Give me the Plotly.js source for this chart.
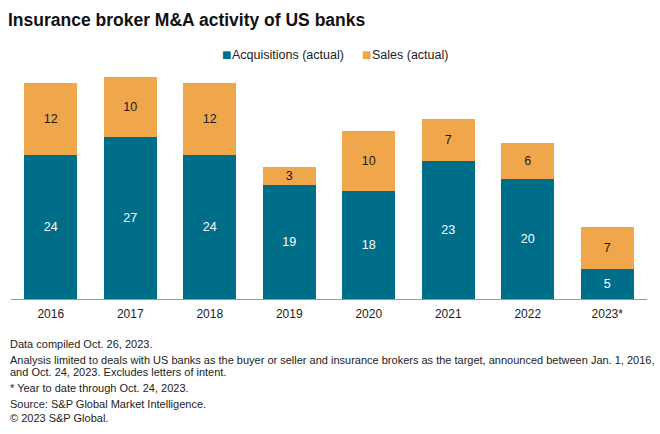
<!DOCTYPE html>
<html>
<head>
<meta charset="utf-8">
<script src="https://cdn.plot.ly/plotly-3.0.1.min.js"></script>
<style>body{margin:0;padding:0;background:#fff;}#chart{width:660px;height:434px;}</style>
</head>
<body>
<div id="chart"></div>
<script>
const years = ["2016", "2017", "2018", "2019", "2020", "2021", "2022", "2023*"];
const acquisitions = [24, 27, 24, 19, 18, 23, 20, 5];
const sales = [12, 10, 12, 3, 10, 7, 6, 7];
const seriesNames = ["Acquisitions (actual)", "Sales (actual)"];
const seriesColors = ["#006E89", "#F0A64B"];
const titleText = "Insurance broker M&A activity of US banks";
const footnotes = [
  "Data compiled Oct. 26, 2023.",
  "Analysis limited to deals with US banks as the buyer or seller and insurance brokers as the target, announced between Jan. 1, 2016,",
  "and Oct. 24, 2023. Excludes letters of intent.",
  "* Year to date through Oct. 24, 2023.",
  "Source: S&P Global Market Intelligence.",
  "© 2023 S&P Global."
];

const W = 660, H = 434;
const mT = 77, mB = 135, mL = 11, mR = 13;
const plotH = H - mT - mB, plotW = W - mL - mR;
const py = p => (H - mB - p) / plotH; // pixel y -> paper y
const pxx = p => (p - mL) / plotW;    // pixel x -> paper x
const font = "Liberation Sans, Arial, sans-serif";

const traces = [
  {
    type: "bar", name: seriesNames[0], x: years, y: acquisitions,
    marker: {color: seriesColors[0]},
    text: acquisitions.map(String), textposition: "inside", insidetextanchor: "middle",
    textangle: 0, constraintext: "none",
    textfont: {color: "#ffffff", size: 12.5, family: font},
    hoverinfo: "x+y"
  },
  {
    type: "bar", name: seriesNames[1], x: years, y: sales,
    marker: {color: seriesColors[1]},
    text: sales.map(String), textposition: "inside", insidetextanchor: "middle",
    textangle: 0, constraintext: "none",
    textfont: {color: "#1a1a1a", size: 12.5, family: font},
    hoverinfo: "x+y"
  }
];

const footY = [344, 360, 372, 388, 404, 418];
const annotations = footnotes.map((t, i) => ({
  text: t, xref: "paper", yref: "paper", x: pxx(8),
  y: py(footY[i]), xanchor: "left", yanchor: "middle", align: "left", showarrow: false,
  font: {size: 11, color: "#222", family: font}
}));

// legend (small squares close to the text, as in the reference)
const legX = [221, 361];
seriesNames.forEach((n, i) => {
  annotations.push({
    text: "■", xref: "paper", yref: "paper", x: pxx(legX[i] - 1), y: py(55),
    xanchor: "left", yanchor: "middle", showarrow: false,
    font: {size: 10, color: seriesColors[i], family: "DejaVu Sans"}
  });
  annotations.push({
    text: n, xref: "paper", yref: "paper", x: pxx(legX[i] + 9), y: py(55),
    xanchor: "left", yanchor: "middle", showarrow: false,
    font: {size: 12.5, color: "#222", family: font}
  });
});

const layout = {
  width: W, height: H,
  margin: {t: mT, b: mB, l: mL, r: mR, pad: 0},
  paper_bgcolor: "#fff", plot_bgcolor: "#fff",
  barmode: "stack", bargap: 0.333,
  title: {text: "<b>" + titleText + "</b>", x: 0, xref: "paper", xanchor: "left",
          y: 1 - 20 / H, yref: "container", yanchor: "middle",
          font: {size: 17.5, color: "#111", family: font}, pad: {l: 8 - mL}},
  showlegend: false,
  xaxis: {type: "category", showline: true, linecolor: "#9a9a9a", linewidth: 1,
          ticks: "", tickfont: {size: 12, color: "#222", family: font}, showgrid: false,
          fixedrange: true, ticklabelstandoff: 4},
  yaxis: {range: [0, 37], visible: false, showgrid: false, zeroline: false, fixedrange: true},
  annotations: annotations
};

Plotly.newPlot("chart", traces, layout, {displayModeBar: false, staticPlot: true});
</script>
</body>
</html>
